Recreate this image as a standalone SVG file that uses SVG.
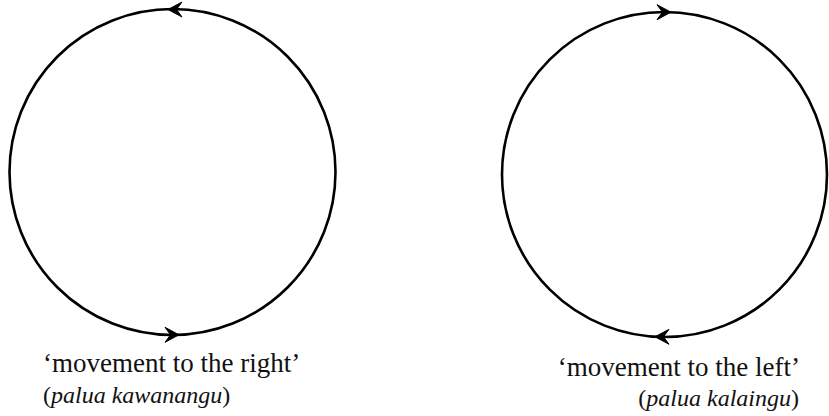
<svg xmlns="http://www.w3.org/2000/svg" xmlns:xlink="http://www.w3.org/1999/xlink" width="829" height="416" viewBox="0 0 829 416">
<style>
.c{fill:none;stroke:#000;stroke-width:2.6}
.a{fill:#000;stroke:#000;stroke-width:1;stroke-linejoin:round}
.t{font-family:"Liberation Serif","Times New Roman",serif;font-size:27px;fill:#111}
.t2{font-family:"Liberation Serif","Times New Roman",serif;font-size:24px;fill:#111}
.i{font-style:italic}
</style>
<defs>
<path id="ah" d="M0,0 L-14,-7.5 L-8.5,0 L-14,7.5 Z"/>
</defs>
<rect width="829" height="416" fill="#fff"/>
<g id="left-circle">
<circle class="c" cx="172.5" cy="172" r="163"/>
</g>
<g id="right-circle">
<circle class="c" cx="664.5" cy="174.5" r="162.5"/>
</g>
<g id="connectors">
<use xlink:href="#ah" class="a" transform="translate(168,9.5) rotate(180)"/>
<use xlink:href="#ah" class="a" transform="translate(179,334.8)"/>
<use xlink:href="#ah" class="a" transform="translate(671,12.2)"/>
<use xlink:href="#ah" class="a" transform="translate(655,336.8) rotate(180)"/>
</g>
<g id="label-left">
<text class="t" x="43" y="372">‘movement to the right’</text>
<text class="t2" x="43" y="403">(<tspan class="i">palua kawanangu</tspan>)</text>
</g>
<g id="label-right">
<text class="t" x="800" y="376" text-anchor="end">‘movement to the left’</text>
<text class="t2" x="799" y="406" text-anchor="end">(<tspan class="i">palua kalaingu</tspan>)</text>
</g>
</svg>
